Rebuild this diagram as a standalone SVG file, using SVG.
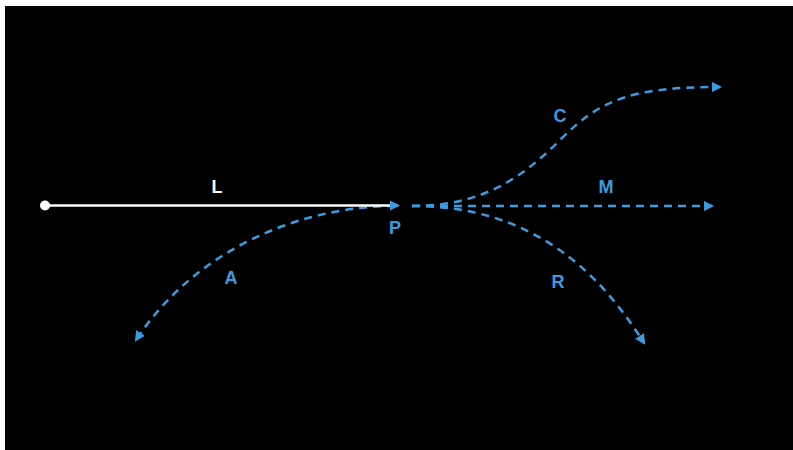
<svg xmlns="http://www.w3.org/2000/svg" width="793" height="450" viewBox="0 0 793 450">
<style>
.d{fill:none;stroke:#3b9de0;stroke-width:2.5;stroke-dasharray:8 6}
.t{font-family:"Liberation Sans",Arial,sans-serif;font-weight:bold;font-size:18px;fill:#3b9de0;text-anchor:middle}
</style>
<defs>
<marker id="ah" viewBox="0 0 10 10" refX="8" refY="5" markerWidth="4.2" markerHeight="4.2" orient="auto" markerUnits="strokeWidth">
<path d="M0,0 L10,5 L0,10 z" fill="#3b9de0"/>
</marker>
</defs>
<rect x="0" y="0" width="793" height="450" fill="#ffffff"/>
<rect x="5" y="6" width="788" height="444" fill="#000000"/>
<g id="connectors">
<path class="d" d="M395 206 C300 206 195 250 136 340" marker-end="url(#ah)"/>
<path class="d" d="M412 206 C480 206 520 180 560 140 C600 100 630 87 720 87" marker-end="url(#ah)"/>
<path class="d" d="M412 206 L712 206" marker-end="url(#ah)"/>
<path class="d" d="M412 206 C500 206 580 240 644 343" marker-end="url(#ah)"/>
<line x1="45" y1="205.5" x2="398" y2="205.5" stroke="#ffffff" stroke-width="2.5" marker-end="url(#ah)"/>
</g>
<g id="L"><circle cx="45" cy="205.5" r="5" fill="#ffffff"/><text x="217" y="193" class="t" style="fill:#ffffff">L</text></g>
<g id="P"><text x="395" y="234" class="t">P</text></g>
<g id="A"><text x="231" y="284" class="t">A</text></g>
<g id="C"><text x="560" y="122" class="t">C</text></g>
<g id="M"><text x="606" y="193" class="t">M</text></g>
<g id="R"><text x="558" y="288" class="t">R</text></g>
</svg>
